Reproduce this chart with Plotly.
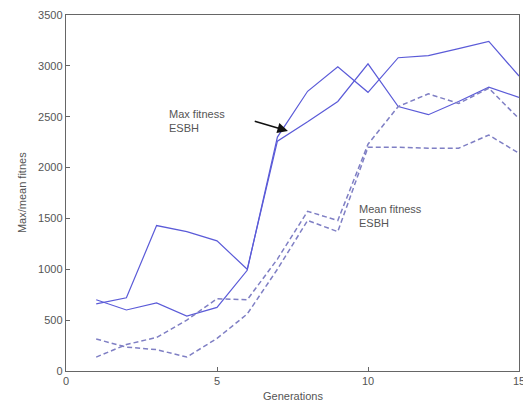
import plotly.graph_objects as go

generations = list(range(1, 16))

max_fit_a = [660, 720, 1430, 1370, 1280, 1000, 2260, 2450, 2650, 3020, 2600, 2520, 2650, 2790, 2690]
max_fit_b = [700, 600, 670, 540, 625, 990, 2300, 2750, 2990, 2740, 3080, 3100, 3170, 3240, 2900]
mean_fit_c = [314, 235, 210, 137, 320, 560, 1000, 1480, 1370, 2200, 2200, 2190, 2190, 2320, 2140]
mean_fit_d = [137, 260, 330, 500, 710, 700, 1100, 1570, 1480, 2230, 2600, 2725, 2630, 2780, 2480]

x_ticks = [0, 5, 10, 15]
y_ticks = [0, 500, 1000, 1500, 2000, 2500, 3000, 3500]

solid_color = "#5b5bd8"
dash_color = "#7f7fc4"

fig = go.Figure()
for ys in (max_fit_a, max_fit_b):
    fig.add_trace(go.Scatter(x=generations, y=ys, mode="lines",
                             line=dict(color=solid_color, width=1.2),
                             showlegend=False, hoverinfo="skip"))
for ys in (mean_fit_c, mean_fit_d):
    fig.add_trace(go.Scatter(x=generations, y=ys, mode="lines",
                             line=dict(color=dash_color, width=1.5, dash="5px,3px"),
                             showlegend=False, hoverinfo="skip"))

font_family = "Liberation Sans, Arial, sans-serif"
axis_common = dict(showline=True, mirror=True, linecolor="#666", linewidth=1.4,
                   ticks="inside", ticklen=4, tickcolor="#666", showgrid=False,
                   zeroline=False, ticklabeloverflow="allow", automargin=False,
                   tickfont=dict(family=font_family, size=11, color="#555"))

fig.update_layout(
    width=523, height=406,
    margin=dict(l=66, r=4, t=15, b=35, autoexpand=False),
    paper_bgcolor="white", plot_bgcolor="white",
    xaxis=dict(range=[0, 15], tickvals=x_ticks, **axis_common),
    yaxis=dict(range=[0, 3500], tickvals=y_ticks, **axis_common),
    font=dict(family=font_family, size=11, color="#555"),
)

fig.add_annotation(text="Max fitness<br>ESBH", x=3.33, y=2458, xref="x", yref="y",
                   xanchor="left", yanchor="middle", align="left", showarrow=False,
                   font=dict(size=11, color="#555"))
fig.add_annotation(text="Mean fitness<br>ESBH", x=9.65, y=1524, xref="x", yref="y",
                   xanchor="left", yanchor="middle", align="left", showarrow=False,
                   font=dict(size=11, color="#555"))
fig.add_annotation(x=7.35, y=2360, ax=6.2, ay=2460, xref="x", yref="y", axref="x", ayref="y",
                   text="", showarrow=True, arrowhead=2, arrowsize=1.4, arrowwidth=1.5,
                   arrowcolor="#111")
fig.add_annotation(text="Generations", x=0.5, y=-0.07, xref="paper", yref="paper",
                   xanchor="center", yanchor="middle", showarrow=False,
                   font=dict(size=11, color="#555"))
fig.add_annotation(text="Max/mean fitnes", x=-0.097, y=0.5, xref="paper", yref="paper",
                   textangle=-90, xanchor="center", yanchor="middle", showarrow=False,
                   font=dict(size=11, color="#555"))

fig.write_html("out.html", config={"displayModeBar": False},
               post_script="document.body.style.margin='0';document.body.style.overflow='hidden';")
